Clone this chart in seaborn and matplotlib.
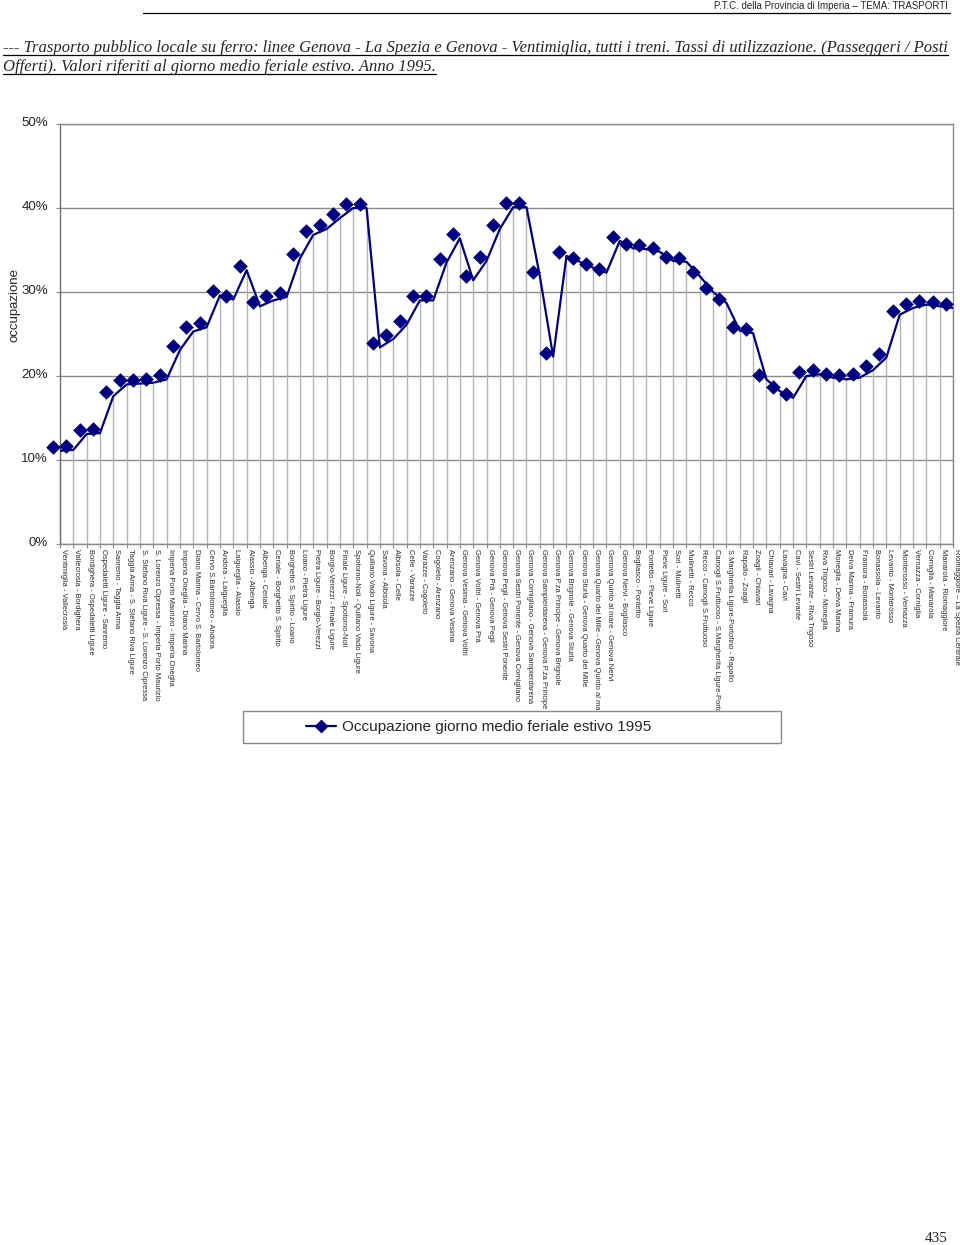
import numpy as np
import matplotlib
matplotlib.use("Agg")
import matplotlib.pyplot as plt
import matplotlib.transforms as mtrans
from matplotlib.lines import Line2D
from matplotlib.patches import Rectangle
from matplotlib.ticker import FuncFormatter
import seaborn as sns

# ---------------- data ----------------
segments = [
    "Ventimiglia - Vallecrosia", "Vallecrosia - Bordighera", "Bordighera - Ospedaletti Ligure",
    "Ospedaletti Ligure - Sanremo", "Sanremo - Taggia Arma", "Taggia Arma - S. Stefano Riva Ligure",
    "S. Stefano Riva Ligure - S. Lorenzo Cipressa", "S. Lorenzo Cipressa - Imperia Porto Maurizio",
    "Imperia Porto Maurizio - Imperia Oneglia", "Imperia Oneglia - Diano Marina",
    "Diano Marina - Cervo S. Bartolomeo", "Cervo S.Bartolomeo - Andora", "Andora - Laigueglia",
    "Laigueglia - Alassio", "Alassio - Albenga", "Albenga - Ceriale", "Ceriale - Borghetto S. Spirito",
    "Borghetto S. Spirito - Loano", "Loano - Pietra Ligure", "Pietra Ligure - Borgio-Verezzi",
    "Borgio-Verezzi - Finale Ligure", "Finale Ligure - Spotorno-Noli", "Spotorno-Noli - Quiliano Vado Ligure",
    "Quiliano Vado Ligure - Savona", "Savona - Albisola", "Albisola - Celle", "Celle - Varazze",
    "Varazze - Cogoleto", "Cogoleto - Arenzano", "Arenzano - Genova Vesima", "Genova Vesima - Genova Voltri",
    "Genova Voltri - Genova Prà", "Genova Prà - Genova Pegli", "Genova Pegli - Genova Sestri Ponente",
    "Genova Sestri Ponente - Genova Cornigliano", "Genova Cornigliano - Genova Sampierdarena",
    "Genova Sampierdarena - Genova P.za Principe", "Genova P.za Principe - Genova Brignole",
    "Genova Brignole - Genova Sturla", "Genova Sturla - Genova Quarto dei Mille",
    "Genova Quarto dei Mille - Genova Quinto al mar", "Genova Quinto al mare - Genova Nervi",
    "Genova Nervi - Bogliasco", "Bogliasco - Pontetto", "Pontetto - Pieve Ligure", "Pieve Ligure - Sori",
    "Sori - Mulinetti", "Mulinetti - Recco", "Recco - Camogli S.Fruttuoso",
    "Camogli S.Fruttuoso - S.Margherita Ligure-Portc", "S.Margherita Ligure-Portofino - Rapallo",
    "Rapallo - Zoagli", "Zoagli - Chiavari", "Chiavari - Lavagna", "Lavagna - Cavi",
    "Cavi - Sestri Levante", "Sestri Levante - Riva Trigoso", "Riva Trigoso - Moneglia",
    "Moneglia - Deiva Marina", "Deiva Marina - Framura", "Framura - Bonassola", "Bonassola - Levanto",
    "Levanto - Monterosso", "Monterosso - Vernazza", "Vernazza - Corniglia", "Corniglia - Manarola",
    "Manarola - Riomaggiore", "Riomaggiore \u2013 La Spezia Centrale",
]

occupazione = [
    11.1, 11.2, 13.1, 13.2, 17.6, 19.0, 19.1, 19.2, 19.6, 23.1,
    25.3, 25.8, 29.6, 29.1, 32.6, 28.3, 29.0, 29.4, 34.0, 36.8,
    37.5, 38.8, 40.0, 40.0, 23.4, 24.4, 26.1, 29.0, 29.0, 33.5,
    36.4, 31.4, 33.7, 37.5, 40.1, 40.1, 31.9, 22.3, 34.3, 33.6,
    32.9, 32.3, 36.1, 35.2, 35.1, 34.8, 33.7, 33.6, 31.9, 30.0,
    28.7, 25.4, 25.1, 19.6, 18.2, 17.4, 20.0, 20.2, 19.8, 19.6,
    19.8, 20.7, 22.2, 27.3, 28.1, 28.5, 28.3, 28.1,
]

y_ticks = [0, 10, 20, 30, 40, 50]
series_name = "Occupazione giorno medio feriale estivo 1995"
header = "P.T.C. della Provincia di Imperia \u2013 TEMA: TRASPORTI"
title_1 = ("--- Trasporto pubblico locale su ferro: linee Genova - La Spezia e Genova - "
           "Ventimiglia, tutti i treni. Tassi di utilizzazione. (Passeggeri / Posti")
title_2 = "Offerti). Valori riferiti al giorno medio feriale estivo. Anno 1995."
page_no = "435"

# ---------------- style ----------------
sns.set_theme(style="white")
plt.rcParams["font.family"] = ["Liberation Sans", "DejaVu Sans"]

NAVY = "#000080"
GRID = "#8a8a8a"
DROP = "#b4b4b4"

W, H, DPI = 960, 1245, 100
fig = plt.figure(figsize=(W / DPI, H / DPI), dpi=DPI)
fig.patch.set_facecolor("white")

def fx(px):
    return px / W

def fy(py):
    return 1 - py / H

ax = fig.add_axes([fx(60), fy(544), fx(953) - fx(60), fy(124) - fy(544)])
ax.set_facecolor("white")

x = np.arange(len(occupazione))
vals = np.array(occupazione)

# drop lines
ax.vlines(x, 0, vals, color=DROP, lw=1.0, zorder=1)

# line
sns.lineplot(x=x, y=vals, ax=ax, color=NAVY, lw=1.6, zorder=3, legend=False)

# markers (shifted slightly as in the reference)
shift = mtrans.ScaledTranslation(-7 / DPI, 4 / DPI, fig.dpi_scale_trans)
sns.scatterplot(x=x, y=vals, ax=ax, marker="D", s=48, color=NAVY, edgecolor=NAVY,
                linewidth=0.5, zorder=4, legend=False, clip_on=False,
                transform=ax.transData + shift)

ax.set_xlim(0, len(occupazione) - 1)
ax.set_ylim(0, 50)
ax.set_yticks(y_ticks)
ax.yaxis.set_major_formatter(FuncFormatter(lambda v, p: f"{int(v)}%"))
ax.grid(axis="y", color=GRID, lw=1.0)
ax.grid(axis="x", visible=False)
ax.set_axisbelow(True)

for side in ["left", "bottom", "right", "top"]:
    ax.spines[side].set_color(GRID)
    ax.spines[side].set_linewidth(1.0)
ax.spines["left"].set_color("#707070")

ax.set_xticks(x)
ax.set_xticklabels(segments, rotation=270, ha="center", va="top", fontsize=5.4)
ax.tick_params(axis="x", length=3, width=0.8, color=GRID, pad=0.8, bottom=True)
ax.tick_params(axis="y", length=3, width=0.8, color=GRID, pad=5.5, labelsize=9.5, left=True)
ax.set_xlabel("")
ax.set_ylabel("")

lab_shift = mtrans.ScaledTranslation(3.5 / DPI, 0, fig.dpi_scale_trans)
for lbl in ax.get_xticklabels():
    lbl.set_transform(lbl.get_transform() + lab_shift)
ylab_shift = mtrans.ScaledTranslation(0, 3 / DPI, fig.dpi_scale_trans)
for lbl in ax.get_yticklabels():
    lbl.set_transform(lbl.get_transform() + ylab_shift)

fig.text(fx(15), fy(305), "occupazione", rotation=90, ha="center", va="center", fontsize=9.5)

# ---------------- legend ----------------
fig.patches.append(Rectangle((fx(243), fy(743)), fx(781) - fx(243), fy(711) - fy(743),
                             transform=fig.transFigure, facecolor="white",
                             edgecolor=GRID, lw=1.0, zorder=0))
handle = Line2D([], [], color=NAVY, lw=1.6, marker="D", markersize=6.5,
                markerfacecolor=NAVY, markeredgecolor=NAVY)
fig.legend([handle], [series_name], loc="center left",
           bbox_to_anchor=(fx(298), fy(727)), frameon=False, borderpad=0,
           handlelength=2.0, handletextpad=0.4, fontsize=11)

# ---------------- header / title ----------------
fig.text(fx(948), fy(6), header, ha="right", va="center", fontsize=7,
         family=["Liberation Sans Narrow", "Liberation Sans"])
fig.add_artist(Line2D([fx(143), fx(950)], [fy(12.5), fy(12.5)], color="black", lw=0.9,
                      transform=fig.transFigure))

t1 = fig.text(fx(3), fy(52), title_1, ha="left", va="baseline", fontsize=11.5,
              family=["Liberation Serif"], style="italic")
t2 = fig.text(fx(3), fy(71), title_2, ha="left", va="baseline", fontsize=11.5,
              family=["Liberation Serif"], style="italic")
renderer = fig.canvas.get_renderer()
w1 = t1.get_window_extent(renderer).width
fs = 11.5 * 945 / w1
t1.set_fontsize(fs)
t2.set_fontsize(fs)
for t, yb in [(t1, 54.5), (t2, 73.5)]:
    bb = t.get_window_extent(renderer)
    fig.add_artist(Line2D([bb.x0 / W, bb.x1 / W], [fy(yb), fy(yb)], color="black", lw=0.9,
                          transform=fig.transFigure))

fig.text(fx(948), fy(1238), page_no, ha="right", va="center", fontsize=11,
         family=["Liberation Serif"])

fig.savefig("out.png", dpi=DPI)
